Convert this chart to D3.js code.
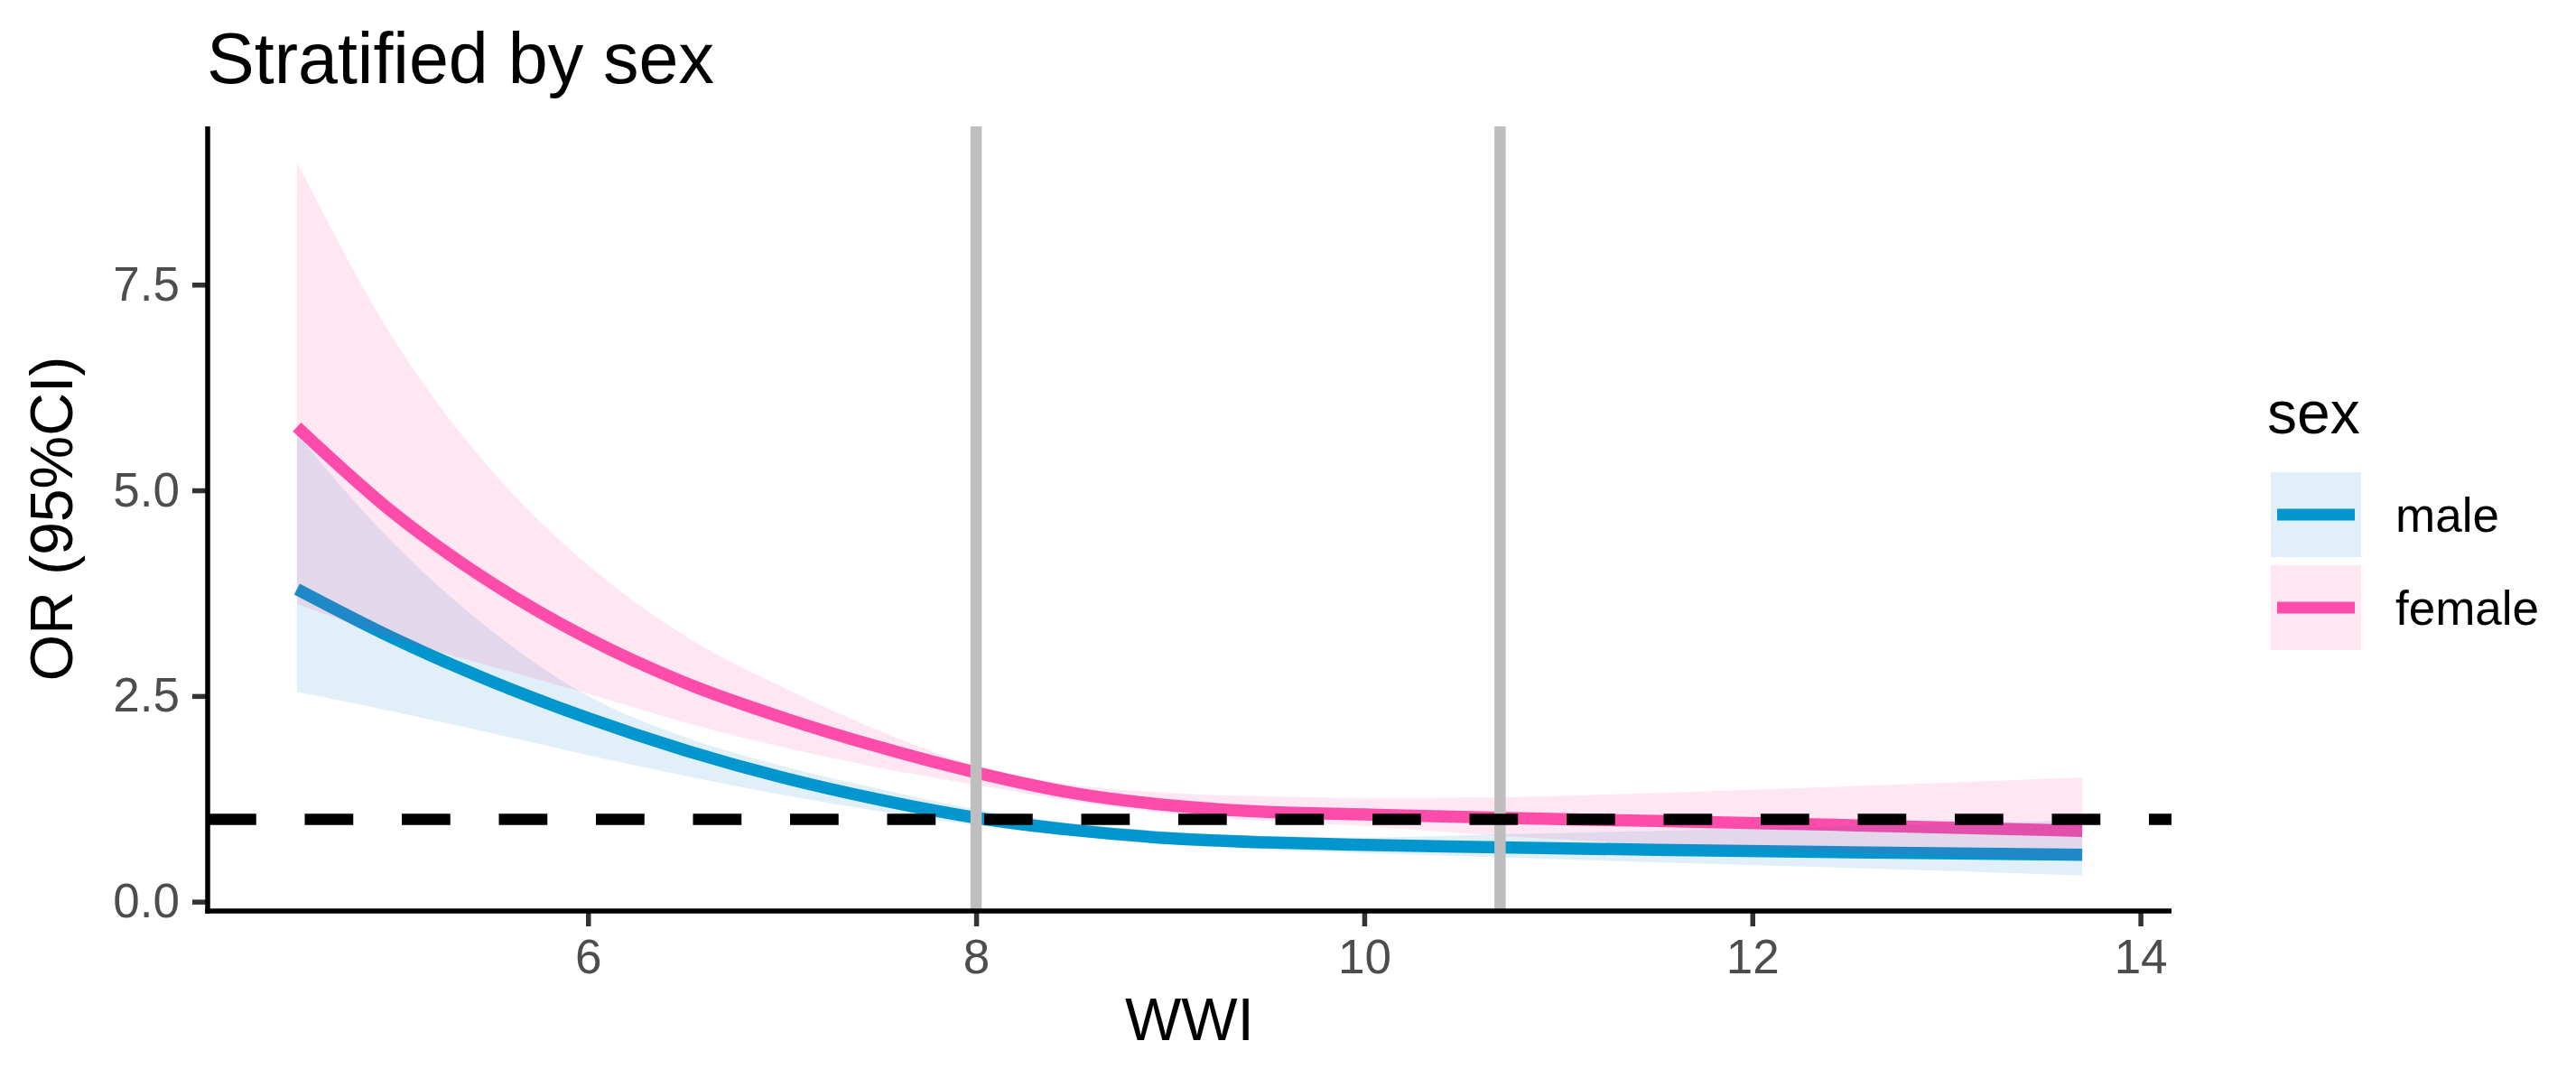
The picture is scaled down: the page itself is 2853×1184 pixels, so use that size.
<!DOCTYPE html>
<html>
<head>
<meta charset="utf-8">
<script src="https://cdn.jsdelivr.net/npm/d3@7"></script>
<style>
  html, body { margin: 0; padding: 0; background: #ffffff; }
  svg { display: block; font-family: "Liberation Sans", Arial, sans-serif; }
</style>
</head>
<body>
<svg id="chart" width="2853" height="1184"></svg>
<script>
// ---------------- data ----------------
const wwi        = [4.5, 5.0, 5.5, 6.0, 6.5, 7.0, 7.5, 8.0, 8.5, 9.0, 9.5, 10.0, 10.7, 11.5, 12.5, 13.7];
const maleOR     = [3.80, 3.20, 2.68, 2.23, 1.84, 1.51, 1.24, 1.02, 0.87, 0.77, 0.72, 0.69, 0.66, 0.63, 0.60, 0.57];
const maleLower  = [2.55, 2.31, 2.05, 1.78, 1.53, 1.30, 1.10, 0.93, 0.80, 0.70, 0.63, 0.59, 0.54, 0.48, 0.41, 0.32];
const maleUpper  = [5.68, 4.35, 3.30, 2.50, 2.00, 1.65, 1.37, 1.12, 0.95, 0.85, 0.80, 0.78, 0.82, 0.86, 0.92, 0.99];
const femaleOR    = [5.77, 4.72, 3.88, 3.20, 2.66, 2.24, 1.88, 1.57, 1.32, 1.17, 1.09, 1.06, 1.02, 0.98, 0.93, 0.86];
const femaleLower = [3.62, 3.20, 2.86, 2.53, 2.18, 1.88, 1.63, 1.42, 1.22, 1.07, 0.98, 0.92, 0.80, 0.70, 0.60, 0.50];
const femaleUpper = [8.99, 6.83, 5.25, 4.09, 3.23, 2.61, 2.08, 1.65, 1.42, 1.32, 1.28, 1.26, 1.27, 1.32, 1.40, 1.51];
const groups = ["male", "female"];
const cutPoints = [8, 10.7];
const refLine = 1;
const xTicks = [6, 8, 10, 12, 14];
const yTicks = [0, 2.5, 5, 7.5];
const titleText = "Stratified by sex";
const xLabel = "WWI";
const yLabel = "OR (95%CI)";
const legendTitle = "sex";

// ---------------- styling ----------------
const lineColors = { male: "#009ACF", female: "#FF50AE" };
const fillColors = { male: "#057AC5", female: "#F72F93" };
const fillAlpha = 0.12;
const lw = 13.5;

const series = {
  male:   wwi.map((x, i) => ({ x, y: maleOR[i],   lo: maleLower[i],   hi: maleUpper[i] })),
  female: wwi.map((x, i) => ({ x, y: femaleOR[i], lo: femaleLower[i], hi: femaleUpper[i] }))
};

const panel = { left: 230, right: 2405, top: 140, bottom: 1009 };

function expand(ext, m) { const d = ext[1] - ext[0]; return [ext[0] - d * m, ext[1] + d * m]; }
const xExt = d3.extent(wwi);
const allY = [].concat(maleLower, maleUpper, femaleLower, femaleUpper, [refLine]);
const yExt = d3.extent(allY);

const x = d3.scaleLinear().domain(expand(xExt, 0.05)).range([panel.left, panel.right]);
const y = d3.scaleLinear().domain(expand(yExt, 0.05)).range([panel.bottom, panel.top]);

const svg = d3.select("#chart");
svg.append("rect").attr("width", 2853).attr("height", 1184).attr("fill", "#ffffff");

const plot = svg.append("g");

const line = d3.line().x(d => x(d.x)).y(d => y(d.y)).curve(d3.curveMonotoneX);
const area = d3.area().x(d => x(d.x)).y0(d => y(d.lo)).y1(d => y(d.hi)).curve(d3.curveMonotoneX);

// lines first
groups.forEach(g => {
  plot.append("path").datum(series[g])
    .attr("d", line)
    .attr("fill", "none")
    .attr("stroke", lineColors[g])
    .attr("stroke-width", lw)
    .attr("stroke-linecap", "butt")
    .attr("stroke-linejoin", "round");
});
// ribbons on top (translucent)
groups.forEach(g => {
  plot.append("path").datum(series[g])
    .attr("d", area)
    .attr("fill", fillColors[g])
    .attr("fill-opacity", fillAlpha)
    .attr("stroke", "none");
});

// vertical cut lines
plot.selectAll(".vline").data(cutPoints).enter().append("line")
  .attr("x1", d => x(d)).attr("x2", d => x(d))
  .attr("y1", panel.top).attr("y2", panel.bottom)
  .attr("stroke", "#BEBEBE").attr("stroke-width", 12.5);

// reference line
plot.append("line")
  .attr("x1", panel.left).attr("x2", panel.right)
  .attr("y1", y(refLine)).attr("y2", y(refLine))
  .attr("stroke", "#000000").attr("stroke-width", 12.5)
  .attr("stroke-dasharray", "53.75,53.75");

// ---------------- axes ----------------
const xAxis = svg.append("g").attr("transform", `translate(0,${panel.bottom})`)
  .call(d3.axisBottom(x).tickValues(xTicks).tickFormat(d3.format("d")).tickSize(17).tickPadding(14));
xAxis.select(".domain").remove();
xAxis.selectAll(".tick line").attr("stroke", "#333333").attr("stroke-width", 5.5);
xAxis.selectAll(".tick text").attr("fill", "#4D4D4D").attr("font-size", 53)
  .attr("font-family", "Liberation Sans, Arial, sans-serif");

const yAxis = svg.append("g").attr("transform", `translate(${panel.left},0)`)
  .call(d3.axisLeft(y).tickValues(yTicks).tickFormat(d3.format(".1f")).tickSize(17).tickPadding(14));
yAxis.select(".domain").remove();
yAxis.selectAll(".tick line").attr("stroke", "#333333").attr("stroke-width", 5.5);
yAxis.selectAll(".tick text").attr("fill", "#4D4D4D").attr("font-size", 53)
  .attr("font-family", "Liberation Sans, Arial, sans-serif");

// axis lines
svg.append("line").attr("x1", panel.left).attr("x2", panel.left)
  .attr("y1", panel.top).attr("y2", panel.bottom + 2.75)
  .attr("stroke", "#000").attr("stroke-width", 5.5);
svg.append("line").attr("x1", panel.left - 2.75).attr("x2", panel.right)
  .attr("y1", panel.bottom).attr("y2", panel.bottom)
  .attr("stroke", "#000").attr("stroke-width", 5.5);

// ---------------- titles ----------------
svg.append("text").attr("x", 229).attr("y", 92)
  .attr("font-size", 79).attr("fill", "#000").text(titleText);

svg.append("text").attr("x", (panel.left + panel.right) / 2).attr("y", 1152)
  .attr("text-anchor", "middle").attr("font-size", 66).attr("fill", "#000").text(xLabel);

svg.append("text")
  .attr("transform", `translate(80,${(panel.top + panel.bottom) / 2}) rotate(-90)`)
  .attr("text-anchor", "middle").attr("font-size", 66).attr("fill", "#000").text(yLabel);

// ---------------- legend ----------------
const legend = svg.append("g");
legend.append("text").attr("x", 2511).attr("y", 480)
  .attr("font-size", 66).attr("fill", "#000").text(legendTitle);

const keyTop = [523, 626];
const keyH = 94;
groups.forEach((g, i) => {
  const k = legend.append("g");
  k.append("rect").attr("x", 2515).attr("y", keyTop[i]).attr("width", 100).attr("height", keyH)
    .attr("fill", "#ffffff");
  k.append("line").attr("x1", 2522).attr("x2", 2608)
    .attr("y1", keyTop[i] + keyH / 2).attr("y2", keyTop[i] + keyH / 2)
    .attr("stroke", lineColors[g]).attr("stroke-width", 13);
  k.append("rect").attr("x", 2515).attr("y", keyTop[i]).attr("width", 100).attr("height", keyH)
    .attr("fill", fillColors[g]).attr("fill-opacity", fillAlpha);
  k.append("text").attr("x", 2653).attr("y", keyTop[i] + keyH / 2 + 19)
    .attr("font-size", 53).attr("fill", "#000").text(g);
});
</script>
</body>
</html>
